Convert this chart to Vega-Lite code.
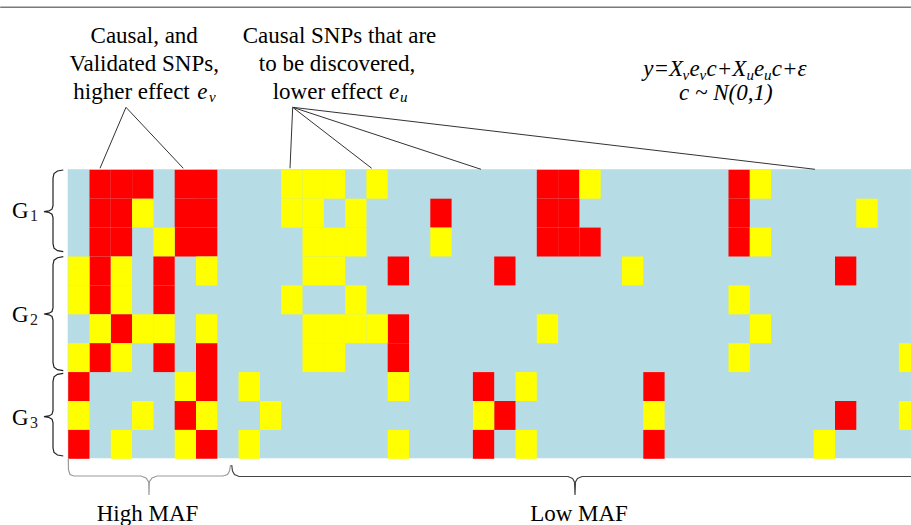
{
  "$schema": "https://vega.github.io/schema/vega-lite/v6.json",
  "width": 911,
  "height": 525,
  "autosize": "none",
  "padding": 0,
  "background": "white",
  "config": {"view": {"stroke": null}},
  "resolve": {"scale": {"color": "independent", "stroke": "independent"}},
  "datasets": {
    "cells": [
      {"c": 1, "r": 0, "type": "validated"}, {"c": 2, "r": 0, "type": "validated"}, {"c": 3, "r": 0, "type": "validated"}, {"c": 5, "r": 0, "type": "validated"}, {"c": 6, "r": 0, "type": "validated"}, {"c": 22, "r": 0, "type": "validated"}, {"c": 23, "r": 0, "type": "validated"}, {"c": 31, "r": 0, "type": "validated"},
      {"c": 10, "r": 0, "type": "undiscovered"}, {"c": 11, "r": 0, "type": "undiscovered"}, {"c": 12, "r": 0, "type": "undiscovered"}, {"c": 14, "r": 0, "type": "undiscovered"}, {"c": 24, "r": 0, "type": "undiscovered"}, {"c": 32, "r": 0, "type": "undiscovered"},
      {"c": 1, "r": 1, "type": "validated"}, {"c": 2, "r": 1, "type": "validated"}, {"c": 5, "r": 1, "type": "validated"}, {"c": 6, "r": 1, "type": "validated"}, {"c": 17, "r": 1, "type": "validated"}, {"c": 22, "r": 1, "type": "validated"}, {"c": 23, "r": 1, "type": "validated"}, {"c": 31, "r": 1, "type": "validated"},
      {"c": 3, "r": 1, "type": "undiscovered"}, {"c": 10, "r": 1, "type": "undiscovered"}, {"c": 11, "r": 1, "type": "undiscovered"}, {"c": 13, "r": 1, "type": "undiscovered"}, {"c": 37, "r": 1, "type": "undiscovered"},
      {"c": 1, "r": 2, "type": "validated"}, {"c": 2, "r": 2, "type": "validated"}, {"c": 5, "r": 2, "type": "validated"}, {"c": 6, "r": 2, "type": "validated"}, {"c": 22, "r": 2, "type": "validated"}, {"c": 23, "r": 2, "type": "validated"}, {"c": 24, "r": 2, "type": "validated"}, {"c": 31, "r": 2, "type": "validated"},
      {"c": 4, "r": 2, "type": "undiscovered"}, {"c": 11, "r": 2, "type": "undiscovered"}, {"c": 12, "r": 2, "type": "undiscovered"}, {"c": 13, "r": 2, "type": "undiscovered"}, {"c": 17, "r": 2, "type": "undiscovered"}, {"c": 32, "r": 2, "type": "undiscovered"},
      {"c": 1, "r": 3, "type": "validated"}, {"c": 4, "r": 3, "type": "validated"}, {"c": 15, "r": 3, "type": "validated"}, {"c": 20, "r": 3, "type": "validated"}, {"c": 36, "r": 3, "type": "validated"},
      {"c": 0, "r": 3, "type": "undiscovered"}, {"c": 2, "r": 3, "type": "undiscovered"}, {"c": 6, "r": 3, "type": "undiscovered"}, {"c": 11, "r": 3, "type": "undiscovered"}, {"c": 12, "r": 3, "type": "undiscovered"}, {"c": 26, "r": 3, "type": "undiscovered"},
      {"c": 1, "r": 4, "type": "validated"}, {"c": 4, "r": 4, "type": "validated"},
      {"c": 0, "r": 4, "type": "undiscovered"}, {"c": 2, "r": 4, "type": "undiscovered"}, {"c": 10, "r": 4, "type": "undiscovered"}, {"c": 13, "r": 4, "type": "undiscovered"}, {"c": 31, "r": 4, "type": "undiscovered"},
      {"c": 2, "r": 5, "type": "validated"}, {"c": 15, "r": 5, "type": "validated"},
      {"c": 1, "r": 5, "type": "undiscovered"}, {"c": 3, "r": 5, "type": "undiscovered"}, {"c": 4, "r": 5, "type": "undiscovered"}, {"c": 6, "r": 5, "type": "undiscovered"}, {"c": 11, "r": 5, "type": "undiscovered"}, {"c": 12, "r": 5, "type": "undiscovered"}, {"c": 13, "r": 5, "type": "undiscovered"}, {"c": 14, "r": 5, "type": "undiscovered"}, {"c": 22, "r": 5, "type": "undiscovered"}, {"c": 32, "r": 5, "type": "undiscovered"},
      {"c": 1, "r": 6, "type": "validated"}, {"c": 4, "r": 6, "type": "validated"}, {"c": 6, "r": 6, "type": "validated"}, {"c": 15, "r": 6, "type": "validated"},
      {"c": 0, "r": 6, "type": "undiscovered"}, {"c": 2, "r": 6, "type": "undiscovered"}, {"c": 11, "r": 6, "type": "undiscovered"}, {"c": 12, "r": 6, "type": "undiscovered"}, {"c": 31, "r": 6, "type": "undiscovered"}, {"c": 39, "r": 6, "type": "undiscovered"},
      {"c": 0, "r": 7, "type": "validated"}, {"c": 6, "r": 7, "type": "validated"}, {"c": 19, "r": 7, "type": "validated"}, {"c": 27, "r": 7, "type": "validated"},
      {"c": 5, "r": 7, "type": "undiscovered"}, {"c": 8, "r": 7, "type": "undiscovered"}, {"c": 15, "r": 7, "type": "undiscovered"}, {"c": 21, "r": 7, "type": "undiscovered"},
      {"c": 5, "r": 8, "type": "validated"}, {"c": 20, "r": 8, "type": "validated"}, {"c": 36, "r": 8, "type": "validated"},
      {"c": 0, "r": 8, "type": "undiscovered"}, {"c": 3, "r": 8, "type": "undiscovered"}, {"c": 6, "r": 8, "type": "undiscovered"}, {"c": 9, "r": 8, "type": "undiscovered"}, {"c": 19, "r": 8, "type": "undiscovered"}, {"c": 27, "r": 8, "type": "undiscovered"}, {"c": 39, "r": 8, "type": "undiscovered"},
      {"c": 0, "r": 9, "type": "validated"}, {"c": 6, "r": 9, "type": "validated"}, {"c": 19, "r": 9, "type": "validated"}, {"c": 27, "r": 9, "type": "validated"},
      {"c": 2, "r": 9, "type": "undiscovered"}, {"c": 5, "r": 9, "type": "undiscovered"}, {"c": 8, "r": 9, "type": "undiscovered"}, {"c": 15, "r": 9, "type": "undiscovered"}, {"c": 21, "r": 9, "type": "undiscovered"}, {"c": 35, "r": 9, "type": "undiscovered"}
    ],
    "pointers": [
      {"x1": 2.737, "y1": -2.145, "x2": 1.516, "y2": -0.035},
      {"x1": 2.737, "y1": -2.145, "x2": 5.427, "y2": -0.035},
      {"x1": 10.563, "y1": -2.145, "x2": 10.437, "y2": -0.035},
      {"x1": 10.563, "y1": -2.145, "x2": 14.272, "y2": -0.035},
      {"x1": 10.563, "y1": -2.145, "x2": 19.404, "y2": 0},
      {"x1": 10.563, "y1": -2.145, "x2": 35.085, "y2": 0}
    ],
    "braces": [
      {"id": "G1", "o": 1, "x": -0.207, "y": 0.024}, {"id": "G1", "o": 2, "x": -0.479, "y": 0.059}, {"id": "G1", "o": 3, "x": -0.643, "y": 0.145}, {"id": "G1", "o": 4, "x": -0.69, "y": 0.301}, {"id": "G1", "o": 5, "x": -0.69, "y": 1.26}, {"id": "G1", "o": 6, "x": -0.737, "y": 1.381}, {"id": "G1", "o": 7, "x": -0.878, "y": 1.439}, {"id": "G1", "o": 8, "x": -1.113, "y": 1.467}, {"id": "G1", "o": 9, "x": -0.878, "y": 1.495}, {"id": "G1", "o": 10, "x": -0.737, "y": 1.554}, {"id": "G1", "o": 11, "x": -0.69, "y": 1.675}, {"id": "G1", "o": 12, "x": -0.69, "y": 2.574}, {"id": "G1", "o": 13, "x": -0.643, "y": 2.73}, {"id": "G1", "o": 14, "x": -0.479, "y": 2.817}, {"id": "G1", "o": 15, "x": -0.207, "y": 2.851},
      {"id": "G2", "o": 1, "x": -0.207, "y": 3.024}, {"id": "G2", "o": 2, "x": -0.479, "y": 3.059}, {"id": "G2", "o": 3, "x": -0.643, "y": 3.145}, {"id": "G2", "o": 4, "x": -0.69, "y": 3.301}, {"id": "G2", "o": 5, "x": -0.69, "y": 4.799}, {"id": "G2", "o": 6, "x": -0.737, "y": 4.92}, {"id": "G2", "o": 7, "x": -0.878, "y": 4.979}, {"id": "G2", "o": 8, "x": -1.113, "y": 5.007}, {"id": "G2", "o": 9, "x": -0.878, "y": 5.035}, {"id": "G2", "o": 10, "x": -0.737, "y": 5.093}, {"id": "G2", "o": 11, "x": -0.69, "y": 5.215}, {"id": "G2", "o": 12, "x": -0.69, "y": 6.692}, {"id": "G2", "o": 13, "x": -0.643, "y": 6.848}, {"id": "G2", "o": 14, "x": -0.479, "y": 6.934}, {"id": "G2", "o": 15, "x": -0.207, "y": 6.969},
      {"id": "G3", "o": 1, "x": -0.207, "y": 7.059}, {"id": "G3", "o": 2, "x": -0.479, "y": 7.093}, {"id": "G3", "o": 3, "x": -0.643, "y": 7.18}, {"id": "G3", "o": 4, "x": -0.69, "y": 7.336}, {"id": "G3", "o": 5, "x": -0.69, "y": 8.353}, {"id": "G3", "o": 6, "x": -0.737, "y": 8.474}, {"id": "G3", "o": 7, "x": -0.878, "y": 8.533}, {"id": "G3", "o": 8, "x": -1.113, "y": 8.561}, {"id": "G3", "o": 9, "x": -0.878, "y": 8.588}, {"id": "G3", "o": 10, "x": -0.737, "y": 8.647}, {"id": "G3", "o": 11, "x": -0.69, "y": 8.768}, {"id": "G3", "o": 12, "x": -0.69, "y": 9.644}, {"id": "G3", "o": 13, "x": -0.643, "y": 9.799}, {"id": "G3", "o": 14, "x": -0.479, "y": 9.886}, {"id": "G3", "o": 15, "x": -0.207, "y": 9.92},
      {"id": "high", "o": 1, "x": 0.028, "y": 10.007}, {"id": "high", "o": 2, "x": 0.038, "y": 10.405}, {"id": "high", "o": 3, "x": 0.108, "y": 10.561}, {"id": "high", "o": 4, "x": 0.296, "y": 10.612}, {"id": "high", "o": 5, "x": 3.441, "y": 10.612}, {"id": "high", "o": 6, "x": 3.676, "y": 10.682}, {"id": "high", "o": 7, "x": 3.803, "y": 10.82}, {"id": "high", "o": 8, "x": 3.817, "y": 11.27}, {"id": "high", "o": 9, "x": 3.831, "y": 10.82}, {"id": "high", "o": 10, "x": 3.958, "y": 10.682}, {"id": "high", "o": 11, "x": 4.192, "y": 10.612}, {"id": "high", "o": 12, "x": 7.291, "y": 10.612}, {"id": "high", "o": 13, "x": 7.502, "y": 10.561}, {"id": "high", "o": 14, "x": 7.596, "y": 10.439}, {"id": "high", "o": 15, "x": 7.643, "y": 10.232},
      {"id": "low", "o": 1, "x": 7.7, "y": 10.232}, {"id": "low", "o": 2, "x": 7.737, "y": 10.439}, {"id": "low", "o": 3, "x": 7.831, "y": 10.561}, {"id": "low", "o": 4, "x": 8.042, "y": 10.63}, {"id": "low", "o": 5, "x": 23.488, "y": 10.63}, {"id": "low", "o": 6, "x": 23.7, "y": 10.699}, {"id": "low", "o": 7, "x": 23.793, "y": 10.82}, {"id": "low", "o": 8, "x": 23.817, "y": 11.27}, {"id": "low", "o": 9, "x": 23.84, "y": 10.82}, {"id": "low", "o": 10, "x": 23.934, "y": 10.699}, {"id": "low", "o": 11, "x": 24.146, "y": 10.63}, {"id": "low", "o": 12, "x": 39.6, "y": 10.63}
    ],
    "labels": [
      {"x": 3.592, "y": -4.381, "t": "Causal, and"},
      {"x": 3.592, "y": -3.401, "t": "Validated SNPs,"},
      {"x": 12.761, "y": -4.381, "t": "Causal SNPs that are"},
      {"x": 12.643, "y": -3.401, "t": "to be discovered,"},
      {"x": 3.746, "y": 12.17, "t": "High MAF"},
      {"x": 24.005, "y": 12.17, "t": "Low MAF"}
    ],
    "leftLabels": [
      {"x": 0.263, "y": -2.433, "t": "higher effect"},
      {"x": 9.624, "y": -2.433, "t": "lower effect"},
      {"x": -2.615, "y": 1.696, "t": "G"},
      {"x": -2.615, "y": 5.273, "t": "G"},
      {"x": -2.615, "y": 8.848, "t": "G"}
    ],
    "italicPieces": [
      {"x": 6.085, "y": -2.433, "t": "e"},
      {"x": 15.085, "y": -2.433, "t": "e"},
      {"x": 27.024, "y": -3.228, "t": "y=X"},
      {"x": 29.192, "y": -3.228, "t": "e"},
      {"x": 29.991, "y": -3.228, "t": "c+X"},
      {"x": 32.221, "y": -3.228, "t": "e"},
      {"x": 33.052, "y": -3.228, "t": "c+ε"}
    ],
    "italicCentered": [
      {"x": 30.897, "y": -2.398, "t": "c ~ N(0,1)"}
    ],
    "subscripts": [
      {"x": 6.634, "y": -2.329, "t": "v"},
      {"x": 15.601, "y": -2.329, "t": "u"},
      {"x": 28.864, "y": -3.09, "t": "v"},
      {"x": 29.662, "y": -3.09, "t": "v"},
      {"x": 31.869, "y": -3.09, "t": "u"},
      {"x": 32.69, "y": -3.09, "t": "u"}
    ],
    "groupSubs": [
      {"x": -1.77, "y": 1.799, "t": "1"},
      {"x": -1.77, "y": 5.377, "t": "2"},
      {"x": -1.77, "y": 8.952, "t": "3"}
    ]
  },
  "layer": [
    {
      "data": {"values": [{"x0": 0, "x1": 40, "y0": 0, "y1": 10}]},
      "mark": {"type": "rect", "fill": "#B6DCE6"},
      "encoding": {
        "x": {"field": "x0", "type": "quantitative", "scale": {"domain": [-3.1784, 39.5915], "nice": false, "zero": false}, "axis": null},
        "x2": {"field": "x1"},
        "y": {"field": "y0", "type": "quantitative", "scale": {"domain": [-5.8581, 12.308], "nice": false, "zero": false, "reverse": true}, "axis": null},
        "y2": {"field": "y1"}
      }
    },
    {
      "data": {"name": "cells"},
      "mark": {"type": "rect"},
      "encoding": {
        "x": {"field": "c", "type": "quantitative", "bin": {"step": 1, "extent": [0, 40]}, "scale": {"domain": [-3.1784, 39.5915], "nice": false, "zero": false}, "axis": null},
        "y": {"field": "r", "type": "quantitative", "bin": {"step": 1, "extent": [0, 10]}, "scale": {"domain": [-5.8581, 12.308], "nice": false, "zero": false, "reverse": true}, "axis": null},
        "color": {"field": "type", "type": "nominal", "scale": {"domain": ["validated", "undiscovered"], "range": ["#FF0000", "#FFFF00"]}, "legend": null}
      }
    },
    {
      "data": {"values": [{"xa": -3.17, "xb": 39.59, "y": -5.606}]},
      "mark": {"type": "rule", "stroke": "#7a7a7a", "strokeWidth": 1.5},
      "encoding": {
        "x": {"field": "xa", "type": "quantitative", "scale": {"domain": [-3.1784, 39.5915], "nice": false, "zero": false}, "axis": null},
        "x2": {"field": "xb"},
        "y": {"field": "y", "type": "quantitative", "scale": {"domain": [-5.8581, 12.308], "nice": false, "zero": false, "reverse": true}, "axis": null}
      }
    },
    {
      "data": {"name": "pointers"},
      "mark": {"type": "rule", "stroke": "#333333", "strokeWidth": 1},
      "encoding": {
        "x": {"field": "x1", "type": "quantitative", "scale": {"domain": [-3.1784, 39.5915], "nice": false, "zero": false}, "axis": null},
        "y": {"field": "y1", "type": "quantitative", "scale": {"domain": [-5.8581, 12.308], "nice": false, "zero": false, "reverse": true}, "axis": null},
        "x2": {"field": "x2"},
        "y2": {"field": "y2"}
      }
    },
    {
      "data": {"name": "braces"},
      "mark": {"type": "line", "strokeWidth": 1.2},
      "encoding": {
        "x": {"field": "x", "type": "quantitative", "scale": {"domain": [-3.1784, 39.5915], "nice": false, "zero": false}, "axis": null},
        "y": {"field": "y", "type": "quantitative", "scale": {"domain": [-5.8581, 12.308], "nice": false, "zero": false, "reverse": true}, "axis": null},
        "order": {"field": "o", "type": "quantitative"},
        "detail": {"field": "id", "type": "nominal"},
        "stroke": {"field": "id", "type": "nominal", "scale": {"domain": ["G1", "G2", "G3", "high", "low"], "range": ["#222222", "#222222", "#222222", "#9a9a9a", "#444444"]}, "legend": null}
      }
    },
    {
      "data": {"name": "labels"},
      "mark": {"type": "text", "font": "Liberation Serif", "fontSize": 23, "align": "center", "baseline": "alphabetic", "color": "#000000"},
      "encoding": {
        "x": {"field": "x", "type": "quantitative", "scale": {"domain": [-3.1784, 39.5915], "nice": false, "zero": false}, "axis": null},
        "y": {"field": "y", "type": "quantitative", "scale": {"domain": [-5.8581, 12.308], "nice": false, "zero": false, "reverse": true}, "axis": null},
        "text": {"field": "t"}
      }
    },
    {
      "data": {"name": "leftLabels"},
      "mark": {"type": "text", "font": "Liberation Serif", "fontSize": 23, "align": "left", "baseline": "alphabetic", "color": "#000000"},
      "encoding": {
        "x": {"field": "x", "type": "quantitative", "scale": {"domain": [-3.1784, 39.5915], "nice": false, "zero": false}, "axis": null},
        "y": {"field": "y", "type": "quantitative", "scale": {"domain": [-5.8581, 12.308], "nice": false, "zero": false, "reverse": true}, "axis": null},
        "text": {"field": "t"}
      }
    },
    {
      "data": {"name": "italicPieces"},
      "mark": {"type": "text", "font": "Liberation Serif", "fontSize": 23, "fontStyle": "italic", "align": "left", "baseline": "alphabetic", "color": "#000000"},
      "encoding": {
        "x": {"field": "x", "type": "quantitative", "scale": {"domain": [-3.1784, 39.5915], "nice": false, "zero": false}, "axis": null},
        "y": {"field": "y", "type": "quantitative", "scale": {"domain": [-5.8581, 12.308], "nice": false, "zero": false, "reverse": true}, "axis": null},
        "text": {"field": "t"}
      }
    },
    {
      "data": {"name": "italicCentered"},
      "mark": {"type": "text", "font": "Liberation Serif", "fontSize": 23, "fontStyle": "italic", "align": "center", "baseline": "alphabetic", "color": "#000000"},
      "encoding": {
        "x": {"field": "x", "type": "quantitative", "scale": {"domain": [-3.1784, 39.5915], "nice": false, "zero": false}, "axis": null},
        "y": {"field": "y", "type": "quantitative", "scale": {"domain": [-5.8581, 12.308], "nice": false, "zero": false, "reverse": true}, "axis": null},
        "text": {"field": "t"}
      }
    },
    {
      "data": {"name": "subscripts"},
      "mark": {"type": "text", "font": "Liberation Serif", "fontSize": 15, "fontStyle": "italic", "align": "left", "baseline": "alphabetic", "color": "#000000"},
      "encoding": {
        "x": {"field": "x", "type": "quantitative", "scale": {"domain": [-3.1784, 39.5915], "nice": false, "zero": false}, "axis": null},
        "y": {"field": "y", "type": "quantitative", "scale": {"domain": [-5.8581, 12.308], "nice": false, "zero": false, "reverse": true}, "axis": null},
        "text": {"field": "t"}
      }
    },
    {
      "data": {"name": "groupSubs"},
      "mark": {"type": "text", "font": "Liberation Serif", "fontSize": 16, "align": "left", "baseline": "alphabetic", "color": "#222222"},
      "encoding": {
        "x": {"field": "x", "type": "quantitative", "scale": {"domain": [-3.1784, 39.5915], "nice": false, "zero": false}, "axis": null},
        "y": {"field": "y", "type": "quantitative", "scale": {"domain": [-5.8581, 12.308], "nice": false, "zero": false, "reverse": true}, "axis": null},
        "text": {"field": "t"}
      }
    }
  ]
}
